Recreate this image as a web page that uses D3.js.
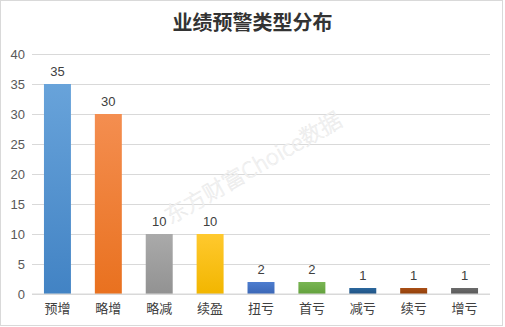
<!DOCTYPE html>
<html>
<head>
<meta charset="utf-8">
<script src="https://cdn.jsdelivr.net/npm/d3@7"></script>
<style>
  body { margin: 0; background: #fff; }
  svg { display: block; font-family: "Liberation Sans", "Noto Sans CJK SC", sans-serif; }
</style>
</head>
<body>
<svg></svg>
<script>
const categories = ['预增', '略增', '略减', '续盈', '扭亏', '首亏', '减亏', '续亏', '增亏'];
const values = [35, 30, 10, 10, 2, 2, 1, 1, 1];
const yTicks = [0, 5, 10, 15, 20, 25, 30, 35, 40];
const title = '业绩预警类型分布';
const watermark = '东方财富Choice数据';

// top / bottom colours of each bar's gradient
const topColors = ['#68a3da', '#f48e50', '#aaaaaa', '#ffc92e', '#4d7dcf', '#79b553', '#2b679d', '#a94f16', '#6b6b6b'];
const bottomColors = ['#4283c4', '#e9711f', '#929292', '#f2b600', '#3b67b6', '#63a13d', '#205384', '#914009', '#595959'];

const width = 505;
const height = 327;
const margin = { top: 54, right: 15, bottom: 33, left: 32 };

const svg = d3.select('svg')
    .attr('width', width)
    .attr('height', height);

svg.append('rect')
    .attr('x', 0.5).attr('y', 0.5)
    .attr('width', width - 3).attr('height', height - 2)
    .attr('fill', '#fff')
    .attr('stroke', '#d9d9d9');

const xScale = d3.scaleBand()
    .domain(categories)
    .range([margin.left, width - margin.right])
    .paddingInner(0.47)
    .paddingOuter(0.235);

const yScale = d3.scaleLinear()
    .domain([0, 40])
    .range([height - margin.bottom, margin.top]);

const defs = svg.append('defs');
categories.forEach((c, i) => {
    const g = defs.append('linearGradient')
        .attr('id', 'grad' + i)
        .attr('x1', 0).attr('y1', 0).attr('x2', 0).attr('y2', 1);
    g.append('stop').attr('offset', '0%').attr('stop-color', topColors[i]);
    g.append('stop').attr('offset', '100%').attr('stop-color', bottomColors[i]);
});

// grid lines + y labels
const yAxis = d3.axisLeft(yScale)
    .tickValues(yTicks)
    .tickSize(-(width - margin.left - margin.right))
    .tickPadding(7);

const yg = svg.append('g')
    .attr('transform', 'translate(' + margin.left + ',0)')
    .call(yAxis);
yg.select('.domain').remove();
yg.selectAll('.tick line').attr('stroke', '#d9d9d9');
yg.selectAll('.tick text')
    .attr('fill', '#595959')
    .attr('font-size', '13px');

// watermark
svg.append('text')
    .attr('transform', 'translate(252,166) rotate(-30)')
    .attr('text-anchor', 'middle')
    .attr('dominant-baseline', 'central')
    .attr('font-size', '22px')
    .attr('font-family', '"Noto Sans CJK SC", sans-serif')
    .attr('font-weight', 300)
    .attr('fill', '#f7f7f7')
    .attr('stroke', '#e6e6e6')
    .attr('stroke-width', 0.4)
    .text(watermark);

// bars
svg.selectAll('.bar')
    .data(values)
    .enter()
    .append('rect')
        .attr('class', 'bar')
        .attr('x', (d, i) => xScale(categories[i]))
        .attr('y', d => yScale(d))
        .attr('width', xScale.bandwidth())
        .attr('height', d => yScale(0) - yScale(d))
        .attr('fill', (d, i) => 'url(#grad' + i + ')');

// value labels
svg.selectAll('.val')
    .data(values)
    .enter()
    .append('text')
        .attr('class', 'val')
        .attr('x', (d, i) => xScale(categories[i]) + xScale.bandwidth() / 2)
        .attr('y', d => yScale(d) - 8)
        .attr('text-anchor', 'middle')
        .attr('font-size', '13px')
        .attr('fill', '#404040')
        .text(d => d);

// x axis line
svg.append('line')
    .attr('x1', margin.left).attr('x2', width - margin.right)
    .attr('y1', yScale(0)).attr('y2', yScale(0))
    .attr('stroke', '#d9d9d9');

// category labels
svg.selectAll('.cat')
    .data(categories)
    .enter()
    .append('text')
        .attr('class', 'cat')
        .attr('x', d => xScale(d) + xScale.bandwidth() / 2)
        .attr('y', height - 14)
        .attr('text-anchor', 'middle')
        .attr('font-size', '13px')
        .attr('font-family', '"Noto Sans CJK SC", sans-serif')
        .attr('fill', '#404040')
        .text(d => d);

svg.append('text')
    .attr('x', width / 2)
    .attr('y', 30)
    .attr('text-anchor', 'middle')
    .attr('font-size', '20px')
    .attr('font-weight', 'bold')
    .attr('font-family', '"Noto Sans CJK SC", sans-serif')
    .attr('fill', '#333')
    .text(title);
</script>
</body>
</html>
